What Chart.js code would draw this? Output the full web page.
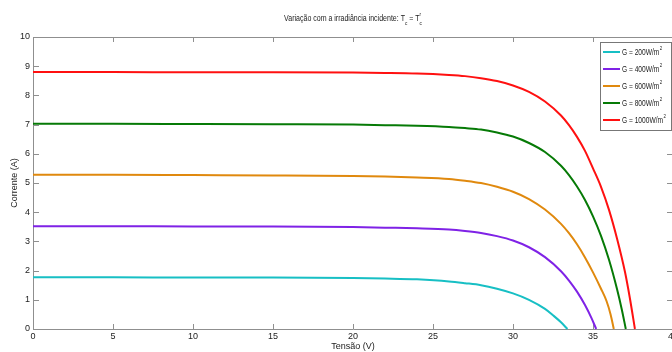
<!DOCTYPE html>
<html>
<head>
<meta charset="utf-8">
<script src="https://cdn.jsdelivr.net/npm/chart.js@4.4.1/dist/chart.umd.min.js"></script>
<style>
  html, body { margin: 0; padding: 0; background: #fff; overflow: hidden; }
  #wrap { width: 676px; height: 352px; }
</style>
</head>
<body>
<div id="wrap"><canvas id="graficoIV"></canvas></div>
<script>
// curvas I-V (Tensão em V, Corrente em A)
const tensao200 = [0, 5, 10, 15, 20, 22, 24, 26, 27, 28, 29, 30, 31, 32, 32.5, 33, 33.4];
const corrente200 = [1.77, 1.77, 1.76, 1.76, 1.75, 1.73, 1.70, 1.63, 1.57, 1.50, 1.38, 1.22, 1.00, 0.69, 0.47, 0.23, 0];

const tensao400 = [0, 5, 10, 15, 20, 22, 24, 26, 27, 28, 29, 30, 31, 32, 33, 33.5, 34, 34.5, 34.9, 35.2];
const corrente400 = [3.52, 3.52, 3.51, 3.51, 3.49, 3.47, 3.45, 3.41, 3.36, 3.29, 3.18, 3.03, 2.80, 2.46, 1.98, 1.66, 1.28, 0.82, 0.38, 0];

const tensao600 = [0, 5, 10, 15, 20, 22, 24, 26, 27, 28, 29, 30, 31, 32, 33, 33.5, 34, 34.5, 35, 35.5, 35.85, 36.1, 36.3];
const corrente600 = [5.28, 5.28, 5.27, 5.26, 5.24, 5.22, 5.19, 5.14, 5.08, 5.00, 4.87, 4.70, 4.45, 4.09, 3.60, 3.28, 2.90, 2.45, 1.94, 1.38, 0.95, 0.50, 0];

const tensao800 = [0, 5, 10, 15, 20, 22, 24, 26, 27, 28, 29, 30, 31, 32, 33, 33.5, 34, 34.5, 35, 35.5, 36, 36.5, 36.8, 37.05];
const corrente800 = [7.03, 7.03, 7.02, 7.01, 7.00, 6.98, 6.96, 6.92, 6.88, 6.83, 6.73, 6.59, 6.37, 6.06, 5.59, 5.27, 4.88, 4.42, 3.86, 3.19, 2.37, 1.37, 0.67, 0];

const tensao1000 = [0, 5, 10, 15, 20, 22, 24, 26, 27, 28, 29, 30, 31, 32, 33, 33.5, 34, 34.5, 35, 35.5, 36, 36.5, 37, 37.3, 37.62];
const corrente1000 = [8.80, 8.80, 8.79, 8.79, 8.78, 8.77, 8.75, 8.70, 8.66, 8.59, 8.49, 8.34, 8.12, 7.79, 7.31, 6.98, 6.58, 6.10, 5.50, 4.87, 4.08, 3.10, 1.95, 1.07, 0];

const legendas = ["G = 200W/m", "G = 400W/m", "G = 600W/m", "G = 800W/m", "G = 1000W/m"];
const cores = ["#17bfc4", "#7f22e6", "#e0890e", "#067a06", "#ff1010"];

const xTicks = [0, 5, 10, 15, 20, 25, 30, 35, 40];
const yTicks = [0, 1, 2, 3, 4, 5, 6, 7, 8, 9, 10];

const FONTE = "'Liberation Sans', Arial, sans-serif";
const COR_EIXO = "#8f8f8f";
const COR_TEXTO = "#222";

function pontos(xs, ys) {
  return xs.map((v, i) => ({ x: v, y: ys[i] }));
}

const series = [
  pontos(tensao200, corrente200),
  pontos(tensao400, corrente400),
  pontos(tensao600, corrente600),
  pontos(tensao800, corrente800),
  pontos(tensao1000, corrente1000)
];

// texto estreito (a fonte original é condensada)
function textoEstreito(ctx, txt, x, y, fator) {
  ctx.save();
  ctx.translate(x, y);
  ctx.scale(fator, 1);
  ctx.fillText(txt, 0, 0);
  ctx.restore();
  return ctx.measureText(txt).width * fator;
}

//#region plugins
// marcas de escala para dentro, nos quatro lados, e moldura
const moldura = {
  id: "moldura",
  beforeDatasetsDraw(chart) {
    const { ctx, chartArea: a, scales: { x, y } } = chart;
    ctx.save();
    ctx.strokeStyle = COR_EIXO;
    ctx.lineWidth = 1;
    ctx.beginPath();
    ctx.moveTo(a.left, a.top + 0.5);
    ctx.lineTo(a.right, a.top + 0.5);
    ctx.moveTo(a.right - 0.5, a.top);
    ctx.lineTo(a.right - 0.5, a.bottom);
    xTicks.forEach((t) => {
      if (t === 0 || t === 40) return;
      const px = Math.round(x.getPixelForValue(t)) + 0.5;
      ctx.moveTo(px, a.bottom);
      ctx.lineTo(px, a.bottom - 5);
      ctx.moveTo(px, a.top);
      ctx.lineTo(px, a.top + 5);
    });
    yTicks.forEach((t) => {
      if (t === 0 || t === 10) return;
      const py = Math.round(y.getPixelForValue(t)) + 0.5;
      ctx.moveTo(a.left, py);
      ctx.lineTo(a.left + 6, py);
      ctx.moveTo(a.right, py);
      ctx.lineTo(a.right - 6, py);
    });
    ctx.stroke();
    ctx.restore();
  }
};

// titulo com subscrito / sobrescrito
const tituloPlugin = {
  id: "tituloPlugin",
  afterDraw(chart) {
    const { ctx, chartArea: a } = chart;
    const f = 0.78;
    const partes = [
      { t: "Variação com a irradiância incidente: T", s: 9, dy: 0 },
      { t: "c", s: 6, dy: 4 },
      { t: " = T", s: 9, dy: 0 },
      { t: "c", s: 6, dy: 4, sup: "r" }
    ];
    ctx.save();
    ctx.fillStyle = COR_TEXTO;
    ctx.textBaseline = "alphabetic";
    let larg = 0;
    partes.forEach((p) => {
      ctx.font = p.s + "px " + FONTE;
      larg += ctx.measureText(p.t).width * f;
    });
    let px = (a.left + a.right) / 2 - larg / 2;
    const base = 21;
    partes.forEach((p) => {
      ctx.font = p.s + "px " + FONTE;
      if (p.sup) textoEstreito(ctx, p.sup, px, base - 5, f);
      px += textoEstreito(ctx, p.t, px, base + p.dy, f);
    });
    ctx.restore();
  }
};

// legenda dentro da área do gráfico, canto superior direito
const legendaPlugin = {
  id: "legendaPlugin",
  afterDraw(chart) {
    const { ctx } = chart;
    const x0 = 600.5, y0 = 42.5, w = 71, h = 88;
    ctx.save();
    ctx.fillStyle = "#fff";
    ctx.fillRect(x0, y0, w, h);
    ctx.strokeStyle = "#777";
    ctx.lineWidth = 1;
    ctx.strokeRect(x0, y0, w, h);
    ctx.font = "9px " + FONTE;
    const f = 41 / ctx.measureText(legendas[4]).width;
    chart.data.datasets.forEach((ds, i) => {
      const ly = 52 + i * 17;
      ctx.strokeStyle = ds.borderColor;
      ctx.lineWidth = 2;
      ctx.beginPath();
      ctx.moveTo(603, ly);
      ctx.lineTo(620, ly);
      ctx.stroke();
      ctx.fillStyle = COR_TEXTO;
      ctx.font = "9px " + FONTE;
      ctx.textBaseline = "middle";
      const wt = textoEstreito(ctx, ds.label, 622, ly + 1, f);
      ctx.font = "6px " + FONTE;
      textoEstreito(ctx, "2", 622 + wt + 0.5, ly - 4, f);
    });
    ctx.restore();
  }
};
//#endregion

const ctx = document.getElementById("graficoIV").getContext("2d");

const graficoIV = new Chart(ctx, {
  type: "scatter",
  data: {
    datasets: series.map((dados, i) => ({
      label: legendas[i],
      data: dados,
      showLine: true,
      borderColor: cores[i],
      backgroundColor: cores[i],
      borderWidth: 2,
      pointRadius: 0,
      cubicInterpolationMode: "monotone",
      clip: false
    }))
  },
  options: {
    responsive: true,
    maintainAspectRatio: false,
    animation: false,
    layout: { padding: { top: 37, right: 3, left: 0, bottom: 0 } },
    plugins: {
      legend: { display: false },
      title: { display: false },
      tooltip: { enabled: false }
    },
    scales: {
      x: {
        type: "linear",
        min: 0,
        max: 40,
        afterFit: (s) => { s.height = 23; s.paddingLeft = 0; s.paddingRight = 0; },
        afterBuildTicks: (s) => { s.ticks = xTicks.map((v) => ({ value: v })); },
        ticks: { padding: 2, color: COR_TEXTO, font: { family: FONTE, size: 9 }, maxRotation: 0 },
        grid: { drawOnChartArea: false, drawTicks: false },
        border: { color: COR_EIXO, width: 1 },
        title: { display: true, text: "Tensão (V)", color: COR_TEXTO, font: { family: FONTE, size: 9 }, padding: 0 }
      },
      y: {
        min: 0,
        max: 10,
        afterFit: (s) => { s.width = 33; s.paddingTop = 0; s.paddingBottom = 0; },
        afterBuildTicks: (s) => { s.ticks = yTicks.map((v) => ({ value: v })); },
        ticks: { padding: 3, color: COR_TEXTO, font: { family: FONTE, size: 9 } },
        grid: { drawOnChartArea: false, drawTicks: false },
        border: { color: COR_EIXO, width: 1 },
        title: { display: true, text: "Corrente (A)", color: COR_TEXTO, font: { family: FONTE, size: 9 }, padding: { top: 9, bottom: 0 } }
      }
    }
  },
  plugins: [moldura, tituloPlugin, legendaPlugin]
});
</script>
</body>
</html>
